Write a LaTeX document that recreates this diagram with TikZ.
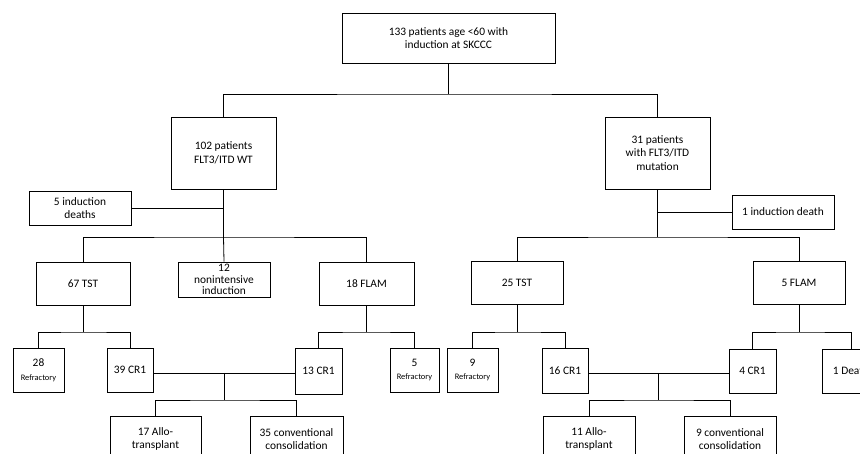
\documentclass[tikz,border=0pt]{standalone}
\usepackage{fontspec}
\setmainfont{Carlito}

\begin{document}
\begin{tikzpicture}[
  x=1pt, y=-1pt,
  box/.style={draw, line width=0.9pt, align=center, inner sep=1pt,
              minimum width=#1, font=\fontsize{11.4}{13.7}\selectfont},
  box/.default=90pt,
  link/.style={draw, line width=0.8pt},
  small/.style={font=\fontsize{8.4}{10}\selectfont},
]
\clip (0,0) rectangle (860,454);

% --- Start ---
\node[box=213pt, minimum height=50pt] (top) at (448.5,38) {133 patients age <60 with\\induction at SKCCC};

% --- FLT3 status ---
\node[box=105pt, minimum height=72pt] (wt)  at (223.5,153) {102 patients\\FLT3/ITD WT};
\node[box=105pt, minimum height=72pt] (mut) at (657.5,153) {31 patients\\with FLT3/ITD\\mutation};

\node[box=102pt, minimum height=34pt] (ind5) at (80,208)  {5 induction\\deaths};
\node[box=102pt, minimum height=34pt] (ind1) at (783,212) {1 induction death};

% --- Induction ---
\node[box=94pt, minimum height=43pt] (tst67)  at (83,283.5)  {67 TST};
\node[box=92pt, minimum height=35pt, font=\fontsize{11.4}{11.6}\selectfont, inner sep=0pt] (nonint) at (224,279.5) {12\\nonintensive\\induction};
\node[box=95pt, minimum height=43pt] (flam18) at (366.5,283.5) {18 FLAM};
\node[box=92pt, minimum height=43pt] (tst25)  at (517,282.5)  {25 TST};
\node[box=92pt, minimum height=43pt] (flam5)  at (799,282.5)  {5 FLAM};

% --- Response ---
\node[box=51pt, minimum height=44pt] (ref28) at (38.5,370) {28\\{\small\fontsize{8.4}{10}\selectfont Refractory}};
\node[box=46pt, minimum height=44pt] (cr39)  at (130,370)  {39 CR1};
\node[box=47pt, minimum height=46pt] (cr13)  at (318.5,371) {13 CR1};
\node[box=49pt, minimum height=44pt] (ref5)  at (414.5,370) {5\\{\fontsize{8.4}{10}\selectfont Refractory}};
\node[box=51pt, minimum height=44pt] (ref9)  at (472.5,370) {9\\{\fontsize{8.4}{10}\selectfont Refractory}};
\node[box=46pt, minimum height=45pt] (cr16)  at (565,370.5) {16 CR1};
\node[box=47pt, minimum height=44pt] (cr4)   at (752.5,371) {4 CR1};
\node[box=58pt, minimum height=44pt] (death1) at (851,371)  {1 Death};

% --- Post-remission ---
\node[box=91pt, minimum height=46pt] (allo17) at (155.5,439) {17 Allo-\\transplant};
\node[box=93pt, minimum height=46pt] (conv35) at (296.5,439) {35 conventional\\consolidation};
\node[box=92pt, minimum height=46pt] (allo11) at (589,439)   {11 Allo-\\transplant};
\node[box=92pt, minimum height=46pt] (conv9)  at (730,439)   {9 conventional\\consolidation};

% --- Junctions ---
\coordinate (j0) at (top.south |- 0,94);
\coordinate (jl) at (wt.south |- 0,237);
\coordinate (jr) at (mut.south |- 0,237);
\coordinate (ja) at (tst67.south |- 0,332);
\coordinate (jb) at (flam18.south |- 0,332);
\coordinate (jc) at (tst25.south |- 0,332);
\coordinate (jd) at (flam5.south |- 0,332);
\coordinate (jl1) at (224,373);
\coordinate (jl2) at (224,400);
\coordinate (jr1) at (658,373);
\coordinate (jr2) at (658,400);

% --- Connectors ---
\draw[link] (top.south) -- (j0);
\draw[link] (wt.north) |- (j0) -| (mut.north);

\draw[link] (wt.south) -- (jl);
\draw[link] (ind5.east) -- (ind5.east -| jl);
\draw[link] (tst67.north) |- (jl) -| (flam18.north);
\draw[link] (jl) -- (nonint.north);

\draw[link] (mut.south) -- (jr);
\draw[link] (ind1.west) -- (ind1.west -| jr);
\draw[link] (tst25.north) |- (jr) -| (flam5.north);

\draw[link] (tst67.south) -- (ja);
\draw[link] (ref28.north) |- (ja) -| (cr39.north);
\draw[link] (flam18.south) -- (jb);
\draw[link] (cr13.north) |- (jb) -| (ref5.north);
\draw[link] (tst25.south) -- (jc);
\draw[link] (ref9.north) |- (jc) -| (cr16.north);
\draw[link] (flam5.south) -- (jd);
\draw[link] (cr4.north) |- (jd) -| (death1.north);

\draw[link] (cr39.east |- jl1) -- (cr13.west |- jl1);
\draw[link] (jl1) -- (jl2);
\draw[link] (allo17.north) |- (jl2) -| (conv35.north);
\draw[link] (cr16.east |- jr1) -- (cr4.west |- jr1);
\draw[link] (jr1) -- (jr2);
\draw[link] (allo11.north) |- (jr2) -| (conv9.north);

\end{tikzpicture}
\end{document}
